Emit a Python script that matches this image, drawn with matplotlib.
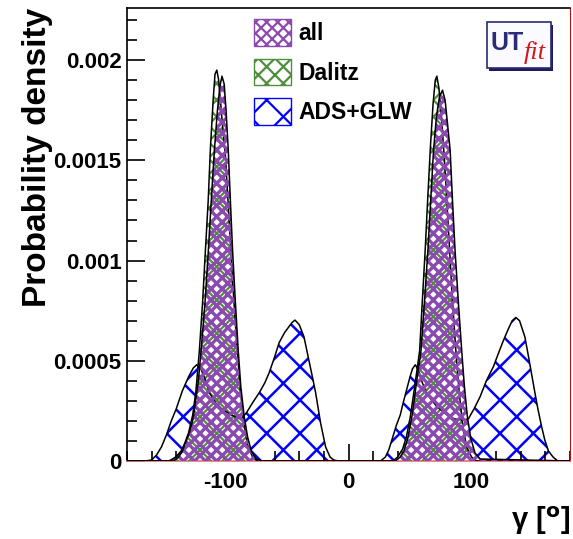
import numpy as np
import matplotlib.pyplot as plt
from matplotlib.patches import Patch, Rectangle
from matplotlib.ticker import MultipleLocator, FixedLocator

plt.rcParams['font.family'] = ['Liberation Sans', 'DejaVu Sans']
plt.rcParams['hatch.linewidth'] = 1.6

# gamma [deg] / probability density
gamma_ads = [-180, -165, -160, -156, -152, -148, -144, -140, -135, -130, -126, -123.3, -120, -116, -113,
             -108, -103, -98, -92, -87.4, -83, -78, -72.6, -68, -64.5, -60, -56.4, -52, -49.6, -46,
             -43.5, -40, -36.2, -32.1, -29, -26.7, -22.7, -18.6, -15, -12, -8,
             26, 30, 32.7, 36, 39, 42.1, 44, 47, 50, 52, 54.3, 57, 60, 63.7, 68, 72, 76, 80, 86,
             93.4, 97.4, 102, 106.9, 112, 117.7, 122, 125.8, 130, 133, 136, 139, 143.3, 146, 148.7,
             151.5, 154.1, 157, 159.5, 162.5, 166.2, 170, 180]
dens_ads = [0, 0, 0.000005, 0.00003, 0.00007, 0.00013, 0.0002, 0.00026, 0.00035, 0.00042, 0.000465, 0.00048,
            0.00046, 0.0004, 0.00034, 0.00029, 0.00026, 0.00024, 0.00022, 0.00021, 0.00024, 0.00029,
            0.00034, 0.00039, 0.00044, 0.00052, 0.00059, 0.00064, 0.00066, 0.00069, 0.000703, 0.00068,
            0.00062, 0.0005, 0.00041, 0.00034, 0.00019, 0.00007, 0.00002, 0.000005, 0,
            0, 0.00002, 0.000055, 0.00012, 0.00018, 0.00023, 0.00028, 0.00035, 0.00042, 0.00046, 0.00048,
            0.00045, 0.00039, 0.000337, 0.0003, 0.00027, 0.00025, 0.00023, 0.00021, 0.000204, 0.00021,
            0.00026, 0.00032, 0.0004, 0.00047, 0.00054, 0.0006, 0.00066, 0.0007, 0.000716, 0.0007,
            0.00062, 0.00053, 0.000437, 0.00034, 0.000254, 0.00017, 0.000105, 0.00005, 0.00002, 0, 0]

gamma_dalitz = [-180, -146, -140, -136, -133, -130, -126.6, -124, -121.2, -118.5, -116.3, -114, -112.3, -110,
                -108.5, -107, -105.5, -103, -100, -97, -94, -91, -88, -85, -82, -78, -74,
                36, 40, 44, 47, 50.2, 54, 57.8, 60, 62.3, 64.3, 66.4, 68.7, 70.5, 71.8, 73.5, 75.5, 78, 81,
                84, 87, 90, 93, 96, 100, 104, 180]
dens_dalitz = [0, 0, 0.00002, 0.00005, 0.00009, 0.00014, 0.00023, 0.00035, 0.00055, 0.0008, 0.00105, 0.0013,
               0.00155, 0.0018, 0.00193, 0.00195, 0.0019, 0.00172, 0.00152, 0.0012, 0.00088, 0.0006,
               0.00036, 0.00019, 0.00008, 0.00002, 0,
               0, 0.00002, 0.00006, 0.00012, 0.00022, 0.00038, 0.00055, 0.0008, 0.00105, 0.0013, 0.00155,
               0.00178, 0.0019, 0.00192, 0.00186, 0.00172, 0.0015, 0.00118, 0.00085, 0.00057, 0.00034,
               0.00017, 0.00007, 0.00002, 0, 0]

gamma_all = [-180, -142, -138, -135, -132.5, -130, -127.5, -125.8, -122, -119.8, -116.5, -113.9, -111.5, -109,
             -106.5, -104.5, -102.8, -101, -99.5, -97.7, -96, -94.2, -92, -89.6, -87.5, -84.7, -82, -79,
             -75, -70,
             38, 42, 45, 48, 51.5, 55, 58.9, 61.8, 64.5, 66.8, 69.1, 71.5, 74, 76.4, 78.5, 80.5, 82.6, 84.5,
             86.6, 89.2, 92, 94.2, 96.6, 99.5, 102.8, 107, 180]
dens_all = [0, 0, 0.00002, 0.00005, 0.00009, 0.00013, 0.00018, 0.00023, 0.0004, 0.00055, 0.0008, 0.00105,
            0.0013, 0.00155, 0.00175, 0.00187, 0.00192, 0.00188, 0.00175, 0.00155, 0.0013, 0.00105,
            0.0008, 0.00055, 0.00037, 0.00022, 0.00012, 0.00005, 0.00001, 0,
            0, 0.00002, 0.00005, 0.00011, 0.00022, 0.00038, 0.00055, 0.0008, 0.00105, 0.0013, 0.00155,
            0.00172, 0.00182, 0.00185, 0.0018, 0.00168, 0.00155, 0.0013, 0.00105, 0.0008, 0.00055,
            0.00037, 0.00022, 0.00011, 0.00004, 0.00001, 0]

labels = ['all', 'Dalitz', 'ADS+GLW']
col_all = '#8a4aae'
col_dalitz = '#4f8f3c'
col_ads = '#0000ff'


def hatch_lw(artist, w):
    if hasattr(artist, 'set_hatch_linewidth'):
        artist.set_hatch_linewidth(w)


fig = plt.figure(figsize=(5.73, 5.39), dpi=100)
ax = fig.add_axes([127 / 573, 78 / 539, 443 / 573, 453 / 539])

# ADS+GLW
c = ax.fill_between(gamma_ads, dens_ads, facecolor='none', edgecolor=col_ads, hatch='x', linewidth=0, zorder=1)
hatch_lw(c, 1.8)
# white under Dalitz / all so blue doesn't show
ax.fill_between(gamma_dalitz, dens_dalitz, facecolor='white', linewidth=0, zorder=2)
ax.fill_between(gamma_all, dens_all, facecolor='white', linewidth=0, zorder=2)
c = ax.fill_between(gamma_dalitz, dens_dalitz, facecolor='none', edgecolor=col_dalitz, hatch='xx',
                    linewidth=0, zorder=3)
hatch_lw(c, 1.6)
ax.plot(gamma_ads, dens_ads, color='black', lw=1.1, zorder=3.5)
ax.plot(gamma_dalitz, dens_dalitz, color='black', lw=1.1, zorder=3.5)
c = ax.fill_between(gamma_all, dens_all, facecolor='none', edgecolor=col_all, hatch='xxx', linewidth=0, zorder=4)
hatch_lw(c, 2.4)
ax.plot(gamma_all, dens_all, color='black', lw=1.1, zorder=5)

ax.set_xlim(-180, 180)
ax.set_ylim(0, 0.00226)

ax.xaxis.set_major_locator(FixedLocator([-100, 0, 100]))
ax.xaxis.set_minor_locator(MultipleLocator(20))
ax.set_xticklabels(['-100', '0', '100'])
ax.yaxis.set_major_locator(FixedLocator([0, 0.0005, 0.001, 0.0015, 0.002]))
ax.yaxis.set_minor_locator(MultipleLocator(0.0001))
ax.set_yticklabels(['0', '0.0005', '0.001', '0.0015', '0.002'])
ax.tick_params(which='both', direction='in', top=False, right=False, width=1.2)
ax.tick_params(which='major', length=13, labelsize=16, pad=4)
ax.tick_params(which='minor', length=7)
ax.tick_params(axis='x', which='major', length=12, pad=8)
for lab in ax.get_xticklabels() + ax.get_yticklabels():
    lab.set_fontweight('bold')

for s in ['left', 'top']:
    ax.spines[s].set_linewidth(1.2)
ax.spines['right'].set_color('#a01818')
ax.spines['bottom'].set_color('#e87070')
ax.spines['bottom'].set_linewidth(1.2)

ax.set_ylabel('Probability density', fontsize=24, fontweight='bold', loc='top', labelpad=0)
ax.set_xlabel('γ [$^{\\mathbf{o}}$]', fontsize=21, fontweight='bold', loc='right', labelpad=8)

handles = [Patch(facecolor='white', edgecolor=col_all, hatch='xxx', lw=1),
           Patch(facecolor='white', edgecolor=col_dalitz, hatch='xx', lw=1),
           Patch(facecolor='white', edgecolor=col_ads, hatch='x', lw=1)]
leg = ax.legend(handles, labels, loc='upper left', bbox_to_anchor=(0.2867, 0.975), frameon=False,
                prop={'size': 16.5, 'weight': 'bold'}, handlelength=1.62, handleheight=1.42,
                labelspacing=0.55, handletextpad=0.3, borderpad=0, borderaxespad=0)

# UTfit logo
fig.patches.append(Rectangle((489 / 573, 1 - 71 / 539), 64 / 573, 46 / 539, transform=fig.transFigure,
                             facecolor='#1c1c5a', edgecolor='none'))
fig.patches.append(Rectangle((487 / 573, 1 - 68 / 539), 64 / 573, 46 / 539, transform=fig.transFigure,
                             facecolor='#fbfbff', edgecolor='#2a2a70', lw=1.2))
fig.text(490 / 573, 1 - 43 / 539, 'UT', fontsize=18, fontweight='bold', color='#2b2b78', va='center')
fig.text(524 / 573, 1 - 53 / 539, 'fit', fontsize=19, style='italic', family='Liberation Serif',
         color='#d01818', va='center')

fig.savefig('out.png', dpi=100)
